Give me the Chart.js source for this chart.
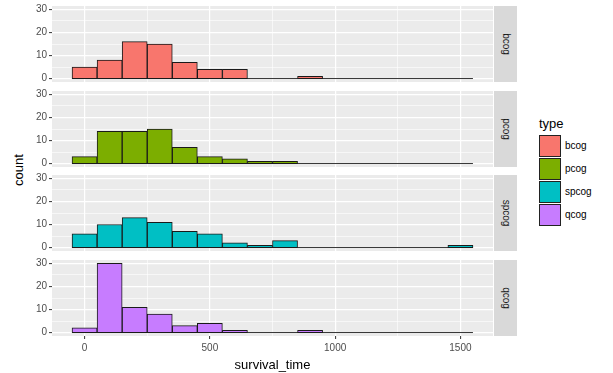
<!DOCTYPE html>
<html>
<head>
<meta charset="utf-8">
<script src="https://cdn.jsdelivr.net/npm/chart.js@4.4.0/dist/chart.umd.min.js"></script>
<style>
  body { margin: 0; background: #fff; font-family: "Liberation Sans", Arial, sans-serif; }
  #wrap { position: relative; width: 613px; height: 373px; overflow: hidden; }
  #wrap canvas { position: absolute; left: 0; }
  .strip { position: absolute; left: 494px; width: 23px; height: 76px; background: #d9d9d9; }
  .strip span { position: absolute; left: 50%; top: 50%; transform: translate(-50%, -50%) rotate(90deg);
    font-size: 10px; color: #1a1a1a; white-space: nowrap; }
  #ylab { position: absolute; left: 18px; top: 170px; transform: translate(-50%, -50%) rotate(-90deg);
    font-size: 13px; color: #000; white-space: nowrap; }
  #legend { position: absolute; left: 539px; top: 116px; }
  #legend .ttl { font-size: 13px; line-height: 15px; color: #000; margin-bottom: 3px; }
  #legend .row { height: 23px; display: flex; align-items: center; }
  #legend .key { width: 22px; height: 22px; box-sizing: border-box; border: 1px solid #222; }
  #legend .lbl { font-size: 10px; color: #000; margin-left: 4px; }
</style>
</head>
<body>
<div id="wrap">
  <div id="ylab">count</div>
  <div id="legend"><div class="ttl">type</div></div>
</div>
<script>
// du lieu: so luong theo tung khoang (do rong 100, tam o 0, 100, ... 1500)
const binCenters = [0, 100, 200, 300, 400, 500, 600, 700, 800, 900, 1000, 1100, 1200, 1300, 1400, 1500];
const binRange = [-50, 1550];
const bcog  = [5, 8, 16, 15, 7, 4, 4, 0, 0, 1, 0, 0, 0, 0, 0, 0];
const pcog  = [3, 14, 14, 15, 7, 3, 2, 1, 1, 0, 0, 0, 0, 0, 0, 0];
const spcog = [6, 10, 13, 11, 7, 6, 2, 1, 3, 0, 0, 0, 0, 0, 0, 1];
const qcog  = [2, 30, 11, 8, 3, 4, 1, 0, 0, 1, 0, 0, 0, 0, 0, 0];
const types = ["bcog", "pcog", "spcog", "qcog"];
const fills = ["#F8766D", "#7CAE00", "#00BFC4", "#C77CFF"];

const xMajor = [0, 500, 1000, 1500];
const xMinor = [250, 750, 1250];
const yMajor = [0, 10, 20, 30];
const yMinor = [5, 15, 25];
const xLimits = [-130, 1630];
const yLimits = [-1.5, 31.5];

const counts = [bcog, pcog, spcog, qcog];
const wrap = document.getElementById("wrap");

// vi tri cac o (panel)
const panelTops = [6, 91, 175, 260];
const panelHeight = 76;

const panelBg = {
  id: "panelBg",
  beforeDraw(chart) {
    const a = chart.chartArea;
    const c = chart.ctx;
    c.save();
    c.fillStyle = "#EBEBEB";
    c.fillRect(a.left, a.top, a.right - a.left, a.bottom - a.top);
    c.restore();
  },
};

// truc phu chi de ve duong luoi phu
function minorAxis(pos, limits, ticks) {
  return {
    type: "linear",
    position: pos,
    min: limits[0],
    max: limits[1],
    offset: false,
    afterBuildTicks: (s) => { s.ticks = ticks.map((v) => ({ value: v })); },
    afterFit: (s) => {
      if (pos === "bottom") s.height = 0; else s.width = 0;
      s.paddingLeft = s.paddingRight = s.paddingTop = s.paddingBottom = 0;
    },
    border: { display: false },
    grid: { color: "#fff", lineWidth: 0.6, drawTicks: false, offset: false },
    ticks: { display: false },
  };
}

function makePanel(i) {
  const last = i === types.length - 1;
  const canvas = document.createElement("canvas");
  const top = panelTops[i] - 5;
  const height = last ? 373 - top : panelHeight + 10;
  canvas.width = 493;
  canvas.height = height;
  canvas.style.top = top + "px";
  wrap.appendChild(canvas);

  const strip = document.createElement("div");
  strip.className = "strip";
  strip.style.top = panelTops[i] + "px";
  strip.innerHTML = "<span>" + types[i] + "</span>";
  wrap.appendChild(strip);

  return new Chart(canvas.getContext("2d"), {
    type: "bar",
    data: {
      datasets: [
        {
          label: types[i],
          data: binCenters.map((x, k) => ({ x: x, y: counts[i][k] })),
          backgroundColor: fills[i],
          borderColor: "#1a1a1a",
          borderWidth: 1,
          borderSkipped: false,
          barPercentage: 1,
          categoryPercentage: 1,
          order: 1,
        },
        {
          type: "line",
          label: "base",
          data: binRange.map((x) => ({ x: x, y: 0 })),
          borderColor: "#333",
          borderWidth: 1,
          pointRadius: 0,
          order: 2,
        },
      ],
    },
    options: {
      responsive: false,
      animation: false,
      devicePixelRatio: 1,
      layout: { padding: { top: 5, bottom: last ? 0 : 5, left: 0, right: 0 } },
      plugins: { legend: { display: false }, tooltip: { enabled: false } },
      scales: {
        xMinor: minorAxis("bottom", xLimits, xMinor),
        yMinor: minorAxis("left", yLimits, yMinor),
        x: {
          type: "linear",
          min: xLimits[0],
          max: xLimits[1],
          offset: false,
          afterBuildTicks: (s) => { s.ticks = xMajor.map((v) => ({ value: v })); },
          afterFit: (s) => {
            s.height = last ? 373 - panelTops[i] - panelHeight : 0;
            s.paddingLeft = 0;
            s.paddingRight = 0;
          },
          border: { display: false },
          grid: {
            color: "#fff",
            lineWidth: 1.2,
            offset: false,
            drawTicks: last,
            tickLength: 3,
            tickWidth: 1,
            tickColor: "#333",
          },
          ticks: {
            display: last,
            autoSkip: false,
            maxRotation: 0,
            padding: 3,
            color: "#4D4D4D",
            font: { size: 10 },
            callback: (v) => String(v),
          },
          title: {
            display: last,
            text: "survival_time",
            color: "#000",
            font: { size: 13 },
            padding: { top: 0, bottom: 0 },
          },
        },
        y: {
          type: "linear",
          min: yLimits[0],
          max: yLimits[1],
          afterBuildTicks: (s) => { s.ticks = yMajor.map((v) => ({ value: v })); },
          afterFit: (s) => {
            s.width = 52;
            s.paddingTop = 0;
            s.paddingBottom = 0;
          },
          border: { display: false },
          grid: {
            color: "#fff",
            lineWidth: 1.2,
            offset: false,
            tickLength: 3,
            tickWidth: 1,
            tickColor: "#333",
          },
          ticks: {
            autoSkip: false,
            padding: 2,
            color: "#4D4D4D",
            font: { size: 10 },
            callback: (v) => String(v),
          },
        },
      },
    },
    plugins: [panelBg],
  });
}

Chart.defaults.font.family = '"Liberation Sans", Arial, sans-serif';
types.forEach((t, i) => makePanel(i));

// chu thich (legend)
const legend = document.getElementById("legend");
types.forEach((t, i) => {
  const row = document.createElement("div");
  row.className = "row";
  row.innerHTML = '<div class="key" style="background:' + fills[i] + '"></div><span class="lbl">' + t + "</span>";
  legend.appendChild(row);
});
</script>
</body>
</html>
